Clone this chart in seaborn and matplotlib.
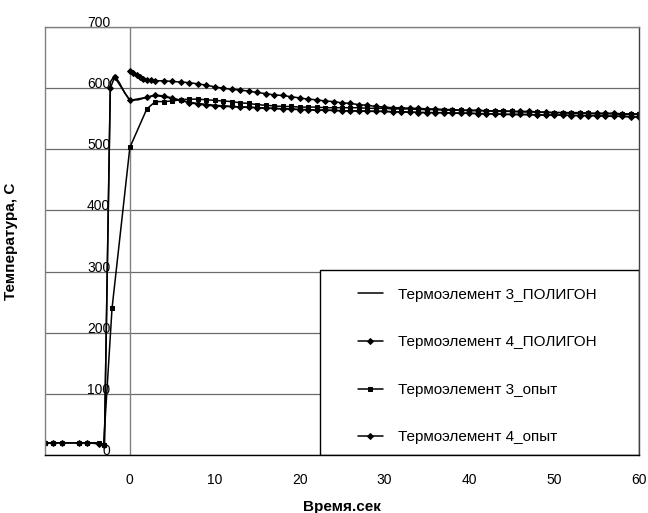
import matplotlib
matplotlib.use('Agg')
import matplotlib.pyplot as plt
from matplotlib.patches import Rectangle
import seaborn as sns

# Термоэлемент 3_ПОЛИГОН (без маркеров)
x_t3_pol = [-10, -9, -8, -7, -6, -5, -4, -3.6, -3.2, -3.0, -2.3, -1.8, -1.2, -0.6, 0,
            1, 2, 3, 4, 5, 6, 7, 8, 10, 12, 15, 20, 25, 30, 35, 40, 45, 50, 55, 60]
y_t3_pol = [20, 20, 20, 20, 20, 20, 20, 18, 16, 18, 610, 621, 608, 592, 580,
            581, 585, 588, 586, 583, 580, 577, 575, 572, 570, 568, 565, 563, 562, 560, 559, 557, 556, 555, 553]

# Термоэлемент 4_ПОЛИГОН
x_t4_pol = [0, 0.4, 0.8, 1.2, 1.6, 2, 2.5, 3] + list(range(4, 61))
y_t4_pol = [628, 624, 621, 618, 615, 614, 613, 612,
            612, 611, 610, 609, 607, 605, 602, 600, 598, 597, 595, 593, 591, 589, 588, 586, 584,
            582, 581, 579, 578, 576, 575, 573, 572, 570, 569, 568, 568, 567, 567, 566, 566, 565,
            565, 564, 564, 564, 563, 563, 563, 562, 562, 562, 561, 561, 560, 560, 560, 560, 559,
            559, 559, 559, 558, 558, 558]

# Термоэлемент 3_опыт
x_t3_exp = [-10, -9, -8, -6, -5, -3.6, -3.1, -2.1, 0, 2, 3] + list(range(4, 61))
y_t3_exp = [20, 20, 20, 20, 20, 19, 16, 240, 503, 566, 578,
            578, 579, 581, 582, 582, 581, 580, 579, 578, 576, 575, 573, 572, 571, 570, 570, 569,
            569, 569, 568, 568, 568, 568, 568, 567, 567, 567, 566, 566, 566, 565, 565, 565, 564,
            564, 564, 563, 563, 563, 562, 562, 562, 561, 561, 561, 560, 560, 560, 559, 559, 559,
            558, 558, 558, 557, 557, 557]

# Термоэлемент 4_опыт
x_t4_exp = [-10, -9, -8, -6, -5, -3.6, -3.0, -2.3, -1.8, 0, 2, 3] + list(range(4, 61))
y_t4_exp = [20, 20, 20, 20, 20, 18, 17, 600, 618, 580, 585, 589,
            587, 584, 580, 576, 574, 572, 571, 570, 570, 569, 569, 568, 567, 567, 566, 566, 565,
            565, 564, 564, 564, 563, 563, 563, 562, 562, 562, 561, 561, 561, 560, 560, 560, 560,
            559, 559, 559, 558, 558, 558, 557, 557, 557, 557, 556, 556, 556, 556, 555, 555, 555,
            555, 554, 554, 554, 553, 553]

x_ticks = list(range(-10, 61, 10))
x_tick_labels = [''] + [str(t) for t in range(0, 61, 10)]
y_ticks = list(range(0, 701, 100))

sns.set_style('white')
plt.rcParams['font.family'] = ['Liberation Sans', 'DejaVu Sans']
plt.rcParams.update({'text.color': 'black', 'axes.labelcolor': 'black',
                     'xtick.color': 'black', 'ytick.color': 'black'})

fig = plt.figure(figsize=(6.48, 5.13), dpi=100)
ax = fig.add_axes([45 / 648, 58 / 513, 594 / 648, 428 / 513])

line_kw = dict(ax=ax, color='black', lw=1.1, estimator=None, sort=False)
sns.lineplot(x=x_t3_pol, y=y_t3_pol, label='Термоэлемент 3_ПОЛИГОН', **line_kw)
sns.lineplot(x=x_t4_pol, y=y_t4_pol, label='Термоэлемент 4_ПОЛИГОН',
             marker='D', markersize=3, mec='black', mfc='black', **line_kw)
sns.lineplot(x=x_t3_exp, y=y_t3_exp, label='Термоэлемент 3_опыт',
             marker='s', markersize=3.5, mec='black', mfc='black', **line_kw)
sns.lineplot(x=x_t4_exp, y=y_t4_exp, label='Термоэлемент 4_опыт',
             marker='D', markersize=3, mec='black', mfc='black', **line_kw)

ax.axvline(0, color='#808080', lw=1, zorder=1)
ax.set_xlim(-10, 60)
ax.set_ylim(0, 700)
ax.set_xticks(x_ticks)
ax.set_xticklabels(x_tick_labels, fontsize=10)
ax.set_yticks(y_ticks)
ax.set_yticklabels([str(t) for t in y_ticks], fontsize=10)
plt.setp(ax.get_yticklabels(), va='baseline')
ax.tick_params(axis='y', length=0, pad=-47)
ax.tick_params(axis='x', length=4, width=1, direction='out', pad=9, color='black')
ax.yaxis.grid(True, color='#6a6a6a', lw=0.9)
ax.xaxis.grid(False)

for side, c in [('left', '#808080'), ('top', '#808080'), ('right', '#404040'), ('bottom', 'black')]:
    ax.spines[side].set_color(c)
    ax.spines[side].set_linewidth(1)

ax.set_xlabel('Время.сек', fontweight='bold', fontsize=11, labelpad=9)
ax.set_ylabel('Температура, С', fontweight='bold', fontsize=11)
ax.yaxis.set_label_coords(-0.045, 0.5)

# рамка легенды
ax.add_patch(Rectangle((275 / 594, 0), 1 - 275 / 594, 185 / 428, transform=ax.transAxes,
                       facecolor='white', edgecolor='black', lw=1, zorder=2.5))
h, l = ax.get_legend_handles_labels()
ax.legend(h, l, loc='upper left', bbox_to_anchor=(305 / 594, 175 / 428), frameon=False,
          fontsize=11, labelspacing=2.2, handlelength=1.65, handletextpad=1.0, borderpad=0)

fig.savefig('out.png', dpi=100)
